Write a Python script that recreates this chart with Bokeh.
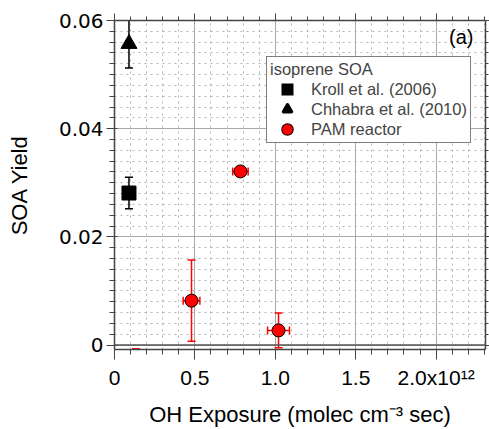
import numpy as np
from bokeh.plotting import figure
from bokeh.models import (ColumnDataSource, LinearAxis, FixedTicker, Legend, LegendItem,
                          Label, Span, Range1d)
from bokeh.embed import file_html
from bokeh.resources import INLINE

# ---------------- data (OH exposure in units of 1e12 molec cm^-3 sec) ----------------
kroll_x = [0.09]
kroll_y = [0.0281]
kroll_yerr = [0.0029]

chhabra_x = [0.09]
chhabra_y = [0.0557]
chhabra_yerr = [0.0045]

pam_x = [0.134, 0.479, 0.783, 1.020]
pam_y = [-0.0040, 0.0082, 0.0321, 0.0027]
pam_yerr = [0.0033, 0.0075, 0.0004, 0.0032]
pam_xerr = [0.030, 0.052, 0.048, 0.068]

x_tick_values = [0.0, 0.5, 1.0, 1.5, 2.0]
x_tick_labels = ["0", "0.5", "1.0", "1.5", "2.0x10\u00b9\u00b2"]
y_tick_values = [0.0, 0.02, 0.04, 0.06]
y_tick_labels = ["0", "0.02", "0.04", "0.06"]

x_title = "OH Exposure (molec cm\u207b\u00b3 sec)"
y_title = "SOA Yield"
panel_tag = "(a)"
legend_title = "isoprene SOA"
legend_labels = ["Kroll et al. (2006)", "Chhabra et al. (2010)", "PAM reactor"]

# ---------------- styling ----------------
FONT = "Liberation Sans"
AX = "#444444"
RED = "#ff0000"

x_minor = [i * 0.1 for i in range(0, 24) if i % 5 != 0]
y_minor = [i * 0.002 for i in range(-1, 31) if i % 10 != 0]

p = figure(width=489, height=429, output_backend="svg", toolbar_location=None,
           x_range=Range1d(0, 2.307), y_range=Range1d(-0.00083, 0.06),
           min_border_left=114, min_border_right=4, min_border_top=20, min_border_bottom=79,
           background_fill_color="white", border_fill_color="white")
p.outline_line_color = None

xt = FixedTicker(ticks=x_tick_values, minor_ticks=x_minor)
yt = FixedTicker(ticks=y_tick_values, minor_ticks=y_minor)

xa = p.xaxis[0]
xa.ticker = xt
xa.major_label_overrides = dict(zip(x_tick_values, x_tick_labels))
xa.major_label_text_font = FONT
xa.major_label_text_font_size = "21px"
xa.major_label_text_color = "black"
xa.major_label_standoff = 6
xa.major_tick_out = 10
xa.major_tick_in = 0
xa.minor_tick_out = 5
xa.minor_tick_in = 0
xa.axis_label = x_title
xa.axis_label_text_font = FONT
xa.axis_label_text_font_size = "22px"
xa.axis_label_text_font_style = "normal"
xa.axis_label_text_color = "black"
xa.axis_label_standoff = 10

ya = p.yaxis[0]
ya.ticker = yt
ya.major_label_overrides = dict(zip(y_tick_values, y_tick_labels))
ya.major_label_text_font = "DejaVu Sans"
ya.major_label_text_font_size = "20px"
ya.major_label_text_color = "black"
ya.major_label_standoff = 3
ya.major_tick_out = 8
ya.major_tick_in = 3
ya.minor_tick_out = 5
ya.minor_tick_in = 0
ya.axis_label = y_title
ya.axis_label_text_font = FONT
ya.axis_label_text_font_size = "22px"
ya.axis_label_text_font_style = "normal"
ya.axis_label_text_color = "black"
ya.axis_label_standoff = 24

top = LinearAxis(ticker=xt, major_label_overrides={v: "" for v in x_tick_values},
                 major_label_text_font_size="10px", major_label_standoff=0,
                 major_tick_out=7, major_tick_in=0, minor_tick_out=4, minor_tick_in=0)
right = LinearAxis(ticker=yt, major_label_overrides={v: "" for v in y_tick_values},
                   major_label_text_font_size="10px", major_label_standoff=0,
                   major_tick_out=4, major_tick_in=0, minor_tick_out=3, minor_tick_in=0)
p.add_layout(top, "above")
p.add_layout(right, "right")

for ax in (xa, ya, top, right):
    ax.axis_line_color = AX
    ax.axis_line_width = 1.5
    ax.major_tick_line_color = AX
    ax.minor_tick_line_color = AX
    ax.major_tick_line_width = 1
    ax.minor_tick_line_width = 1

for g in (p.xgrid[0], p.ygrid[0]):
    g.grid_line_color = "#a8a8a8"
    g.grid_line_width = 1
    g.minor_grid_line_color = "#b4b4b4"
    g.minor_grid_line_dash = "dotted"
    g.minor_grid_line_width = 1
p.xgrid[0].ticker = xt
p.ygrid[0].ticker = yt

p.add_layout(Span(location=0, dimension="width", line_color="#555555", line_width=1.5))

# ---------------- error bars ----------------
def ysrc(x, y, e):
    return ColumnDataSource(dict(x=x, y=y, lo=[a - b for a, b in zip(y, e)],
                                 hi=[a + b for a, b in zip(y, e)]))

ks = ysrc(kroll_x, kroll_y, kroll_yerr)
cs = ysrc(chhabra_x, chhabra_y, chhabra_yerr)
ps = ysrc(pam_x, pam_y, pam_yerr)
ps.data["xlo"] = [a - b for a, b in zip(pam_x, pam_xerr)]
ps.data["xhi"] = [a + b for a, b in zip(pam_x, pam_xerr)]

for src, col in ((ks, "black"), (cs, "black"), (ps, RED)):
    p.segment(x0="x", y0="lo", x1="x", y1="hi", source=src, line_color=col, line_width=1.5)
    p.scatter(x="x", y="lo", source=src, marker="dash", size=8, line_color=col, line_width=1.5)
    p.scatter(x="x", y="hi", source=src, marker="dash", size=8, line_color=col, line_width=1.5)

p.segment(x0="xlo", y0="y", x1="xhi", y1="y", source=ps, line_color=RED, line_width=1.5)
p.scatter(x="xlo", y="y", source=ps, marker="dash", angle=np.pi / 2, size=8,
          line_color=RED, line_width=1.5)
p.scatter(x="xhi", y="y", source=ps, marker="dash", angle=np.pi / 2, size=8,
          line_color=RED, line_width=1.5)

# ---------------- markers ----------------
p.scatter(x="x", y="y", source=ks, marker="square", size=14,
          fill_color="black", line_color="black")
p.scatter(x="x", y="y", source=cs, marker="triangle", size=16,
          fill_color="black", line_color="black")
p.scatter(x="x", y="y", source=ps, marker="circle", size=13,
          fill_color=RED, line_color="black", line_width=1)

# legend-symbol renderers (hidden in the plot, drawn only in the legend at a larger size)
lg_k = p.scatter(x="x", y="y", source=ks, marker="square", size=8, visible=False,
                 fill_color="black", line_color="black", line_width=4, line_join="miter")
lg_c = p.scatter(x="x", y="y", source=cs, marker="triangle", size=8, visible=False,
                 fill_color="black", line_color="black", line_width=3.5, line_join="round")
lg_p1 = p.scatter(x="x", y="y", source=ps, marker="circle", size=8, visible=False,
                  fill_color="black", line_color="black", line_width=4.5)
lg_p2 = p.scatter(x="x", y="y", source=ps, marker="circle", size=8, visible=False,
                  fill_color=RED, line_color=RED, line_width=2.5)

legend = Legend(items=[LegendItem(label=legend_labels[0], renderers=[lg_k], index=0),
                       LegendItem(label=legend_labels[1], renderers=[lg_c], index=0),
                       LegendItem(label=legend_labels[2], renderers=[lg_p1, lg_p2], index=1)],
                title=legend_title, location=(152, 206))
legend.title_text_font = FONT
legend.title_text_font_size = "16.5px"
legend.title_text_font_style = "normal"
legend.title_standoff = 0
legend.label_text_font = FONT
legend.label_text_font_size = "16.5px"
legend.glyph_height = 20
legend.glyph_width = 34
legend.label_height = 20
legend.spacing = 0
legend.label_standoff = 7
legend.padding = 3
legend.margin = 0
legend.inactive_fill_alpha = 0
legend.border_line_color = "black"
legend.border_line_width = 1
legend.background_fill_color = "white"
legend.background_fill_alpha = 1
p.add_layout(legend)

p.add_layout(Label(x=359, y=312.5, x_units="screen", y_units="screen", text=panel_tag,
                   text_font=FONT, text_font_size="20px", text_align="right",
                   text_baseline="middle", text_color="black"))

open("out.html", "w").write(file_html(p, INLINE))
